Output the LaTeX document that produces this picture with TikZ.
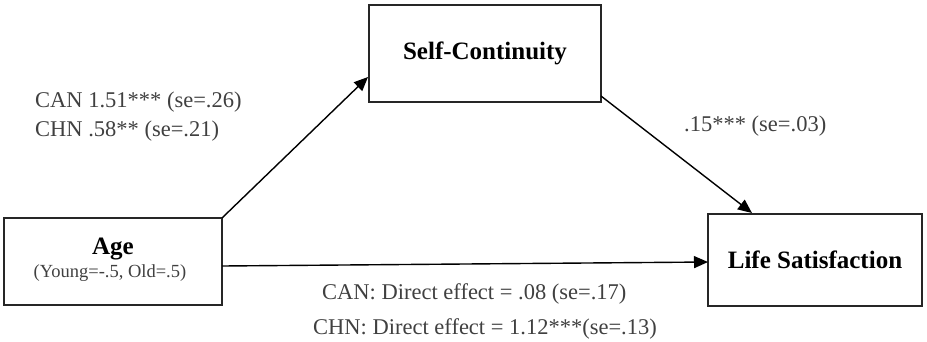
\documentclass[tikz,border=0pt]{standalone}
\usepackage{fontspec}
\setmainfont{Liberation Serif}
\usetikzlibrary{arrows.meta}
\begin{document}
\begin{tikzpicture}[x=1pt,y=-1pt,
  box/.style={draw=black!85,line width=1.2pt,inner sep=0pt},
  conn/.style={line width=1.4pt,-{Triangle[length=14pt,width=12pt]}},
  head/.style={font=\bfseries\fontsize{25}{30}\selectfont},
  lbl/.style={text=black!75,font=\fontsize{22.5}{27}\selectfont,anchor=west,inner sep=0pt}]
\useasboundingbox (0,0) rectangle (927,341);
\node[box,minimum width=218pt,minimum height=87pt] (age) at (113,261.5) {};
\node[head] (aget) at (113,249) {Age};
\node[text=black!75,font=\fontsize{18.5}{22}\selectfont] (ages) at (110,273) {(Young=-.5, Old=.5)};
\node[box,head,minimum width=232pt,minimum height=97pt] (sc) at (485,53.5) {Self-Continuity};
\node[box,head,minimum width=214pt,minimum height=92pt] (ls) at (815,260) {Life Satisfaction};
\coordinate (a1) at (222,218);
\coordinate (s1) at (368,77);
\coordinate (s2) at (601,96);
\coordinate (l1) at (752,213);
\coordinate (a2) at (222,266);
\coordinate (l2) at (708,262);
\draw[conn] (a1) -- (s1);
\draw[conn] (s2) -- (l1);
\draw[conn] (a2) -- (l2);
\node[lbl] (t1) at (35,102) {CAN 1.51*** (se=.26)};
\node[lbl] (t2) at (35,131) {CHN .58** (se=.21)};
\node[lbl] (t3) at (684,126) {.15*** (se=.03)};
\node[lbl] (t4) at (322,294) {CAN: Direct effect = .08 (se=.17)};
\node[lbl] (t5) at (313,329) {CHN: Direct effect = 1.12***(se=.13)};
\end{tikzpicture}
\end{document}
